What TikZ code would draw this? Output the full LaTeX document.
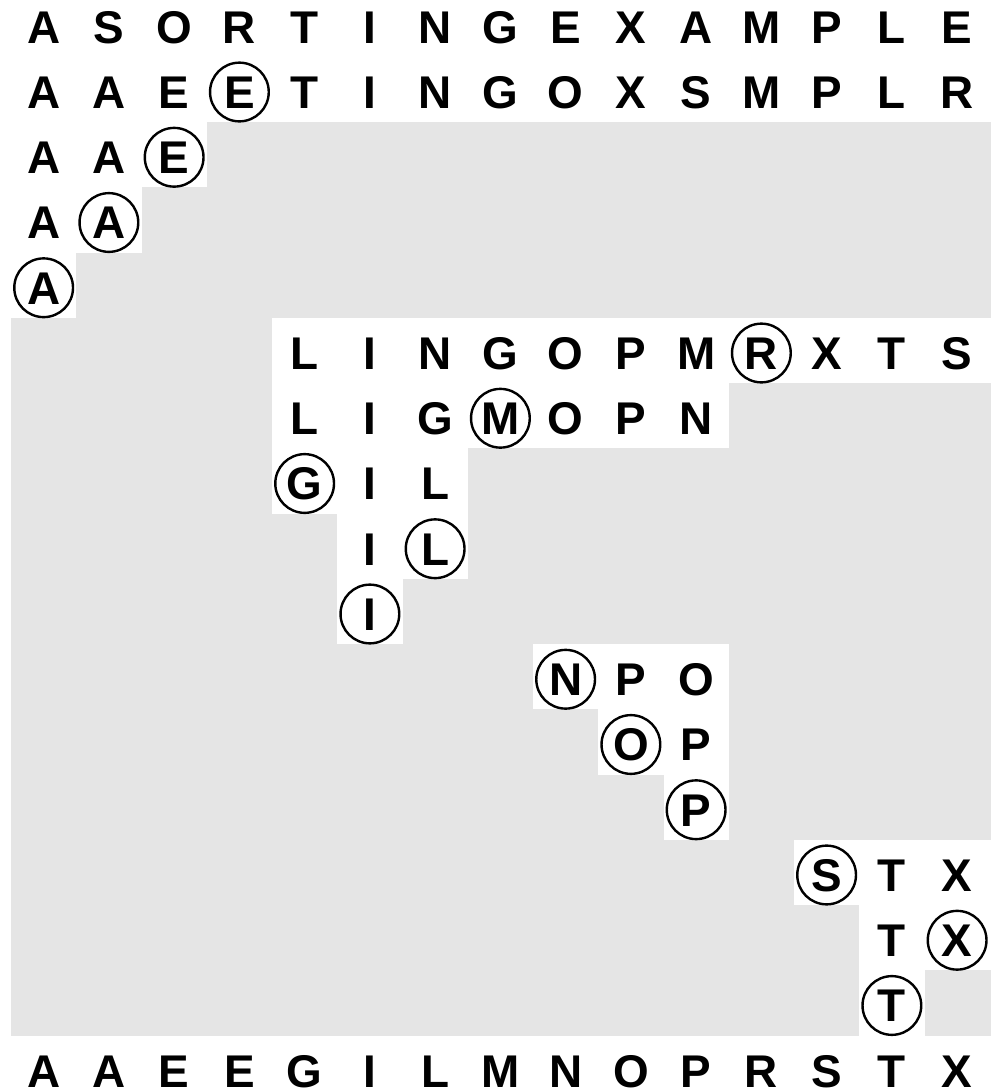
\documentclass[tikz,border=0pt]{standalone}
\usepackage{fontspec}
\setmainfont{Liberation Sans}
\definecolor{cellgray}{gray}{0.9}
\tikzset{
  letter/.style={font=\fontsize{20}{24}\selectfont\bfseries, inner sep=0pt,
    text height=14.3pt, text depth=0pt},
  ringed/.style={letter, circle, draw, line width=1.05pt, minimum size=0.9cm}
}
% one row of letters: row, first column, circled column, letters
\newcommand\sortrow[4]{%
  \foreach \ch [count=\k from #2] in {#4} {%
    \ifnum\k=#3\relax
      \node[ringed] (n#1-\k) at (\k+0.5,{-#1-0.54}) {\ch};
    \else
      \node[letter] (n#1-\k) at (\k+0.5,{-#1-0.54}) {\ch};
    \fi
  }%
}
\begin{document}
\begin{tikzpicture}[x=1cm,y=1cm]
\useasboundingbox (-0.169,-16.866) rectangle (15.019,-0.130);
% grey band and the white runs of each partition step
\fill[cellgray] (0,-2) rectangle (15.02,-16);
\foreach \r/\a/\b in {2/0/3, 3/0/2, 4/0/1, 5/4/15.02, 6/4/11, 7/4/7, 8/5/7,
  9/5/6, 10/8/11, 11/9/11, 12/10/11, 13/12/15.02, 14/13/15.02, 15/13/14}
  \fill[white] (\a,-\r) rectangle (\b,-\r-1);
% letters
\sortrow{0}{0}{-1}{A,S,O,R,T,I,N,G,E,X,A,M,P,L,E}
\sortrow{1}{0}{3}{A,A,E,E,T,I,N,G,O,X,S,M,P,L,R}
\sortrow{2}{0}{2}{A,A,E}
\sortrow{3}{0}{1}{A,A}
\sortrow{4}{0}{0}{A}
\sortrow{5}{4}{11}{L,I,N,G,O,P,M,R,X,T,S}
\sortrow{6}{4}{7}{L,I,G,M,O,P,N}
\sortrow{7}{4}{4}{G,I,L}
\sortrow{8}{5}{6}{I,L}
\sortrow{9}{5}{5}{I}
\sortrow{10}{8}{8}{N,P,O}
\sortrow{11}{9}{9}{O,P}
\sortrow{12}{10}{10}{P}
\sortrow{13}{12}{12}{S,T,X}
\sortrow{14}{13}{14}{T,X}
\sortrow{15}{13}{13}{T}
\sortrow{16}{0}{-1}{A,A,E,E,G,I,L,M,N,O,P,R,S,T,X}
\end{tikzpicture}
\end{document}
